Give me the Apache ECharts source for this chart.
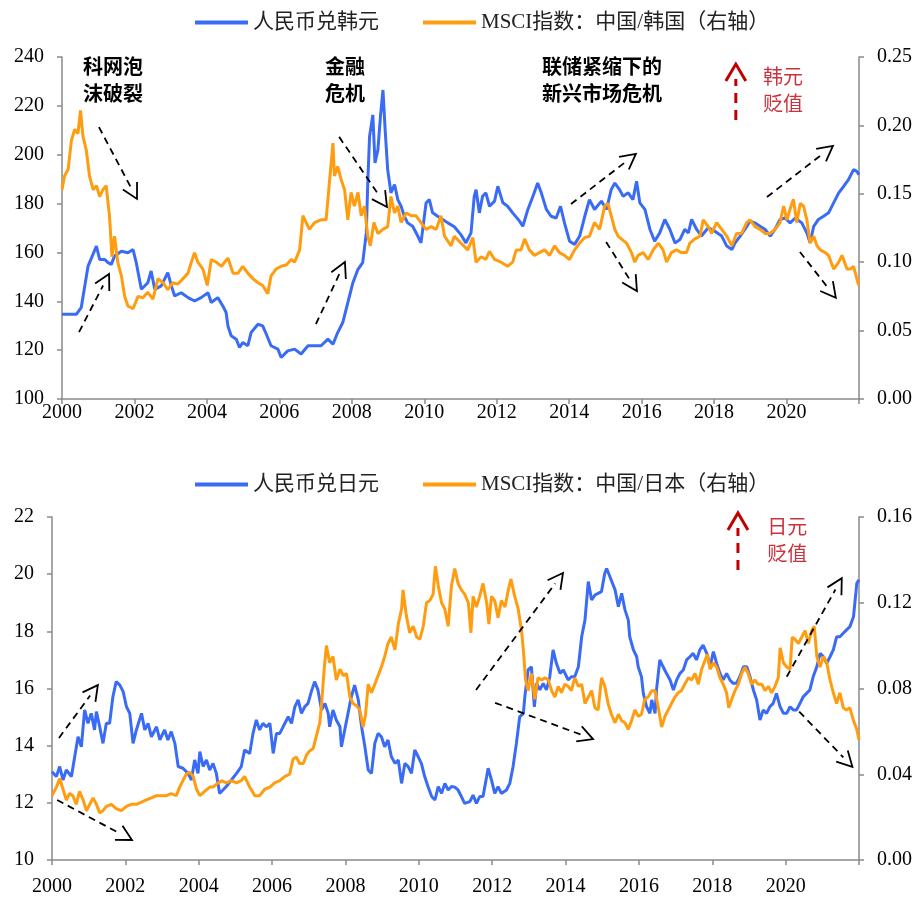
<!DOCTYPE html>
<html>
<head>
<meta charset="utf-8">
<title>人民币汇率与MSCI指数</title>
<script src="https://cdn.jsdelivr.net/npm/echarts@6/dist/echarts.min.js"></script>
<style>
html, body { margin: 0; padding: 0; background: #fff; }
#chart { width: 923px; height: 900px; }
</style>
</head>
<body>
<div id="chart"></div>
<script>
// 人民币兑韩元（左轴），[年份, 汇率]
var krwRate = [
[2000.00,134.7],[2000.40,134.7],[2000.53,137.4],[2000.72,154.4],[2000.95,162.6],[2001.04,157.1],[2001.18,157.1],[2001.27,155.8],[2001.36,155.1],[2001.45,158.5],
[2001.64,160.5],[2001.82,159.9],[2001.96,161.2],[2002.05,155.8],[2002.19,144.9],[2002.37,147.6],[2002.46,152.4],[2002.56,144.9],[2002.74,146.3],[2002.92,151.7],
[2003.02,146.3],[2003.11,142.2],[2003.29,143.5],[2003.48,141.5],[2003.66,140.1],[2003.84,141.5],[2004.03,143.5],[2004.12,139.5],[2004.30,141.5],[2004.44,138.1],
[2004.53,135.4],[2004.58,129.9],[2004.67,125.9],[2004.81,124.5],[2004.90,121.1],[2004.99,123.1],[2005.13,121.8],[2005.22,127.2],[2005.41,130.6],[2005.54,129.9],
[2005.64,126.5],[2005.77,121.8],[2005.96,120.4],[2006.05,117.0],[2006.23,119.7],[2006.42,120.4],[2006.60,118.4],[2006.79,121.8],[2006.97,121.8],[2007.15,121.8],
[2007.34,124.5],[2007.48,122.4],[2007.61,127.2],[2007.75,131.3],[2007.89,139.5],[2008.03,147.6],[2008.17,153.1],[2008.30,155.8],[2008.40,168.0],[2008.44,188.4],
[2008.49,207.5],[2008.58,216.3],[2008.64,196.6],[2008.72,202.0],[2008.79,215.6],[2008.86,226.5],[2008.92,210.2],[2008.99,193.9],[2009.08,184.4],[2009.18,187.8],
[2009.27,181.6],[2009.36,178.9],[2009.45,174.8],[2009.54,172.1],[2009.68,170.7],[2009.82,166.7],[2009.91,163.9],[2010.05,180.3],[2010.14,181.6],[2010.23,176.2],
[2010.37,174.8],[2010.51,173.5],[2010.65,172.1],[2010.83,170.5],[2011.01,167.3],[2011.15,163.9],[2011.29,168.0],[2011.38,183.0],[2011.43,185.7],[2011.52,176.2],
[2011.61,183.0],[2011.70,184.4],[2011.80,178.9],[2011.94,181.0],[2012.03,187.1],[2012.17,180.3],[2012.30,178.9],[2012.44,176.2],[2012.63,172.8],[2012.72,170.7],
[2012.86,177.6],[2013.00,183.0],[2013.13,188.4],[2013.23,184.4],[2013.37,177.6],[2013.50,174.8],[2013.64,174.1],[2013.76,178.9],[2013.87,172.1],[2014.01,164.6],
[2014.15,163.3],[2014.29,166.7],[2014.43,174.8],[2014.56,181.6],[2014.70,177.6],[2014.89,181.0],[2015.03,177.6],[2015.16,185.7],[2015.26,188.4],[2015.39,185.7],
[2015.49,183.0],[2015.63,184.4],[2015.76,181.6],[2015.86,189.1],[2015.95,180.3],[2016.09,177.6],[2016.23,169.4],[2016.36,164.6],[2016.50,168.0],[2016.64,173.5],
[2016.78,169.4],[2016.92,163.9],[2017.06,165.3],[2017.19,169.4],[2017.29,168.0],[2017.38,173.5],[2017.52,169.4],[2017.65,166.7],[2017.84,170.1],[2018.02,168.7],
[2018.21,166.7],[2018.35,162.6],[2018.49,161.2],[2018.58,163.9],[2018.72,166.7],[2018.85,169.4],[2018.99,172.8],[2019.13,172.1],[2019.27,170.7],[2019.41,169.4],
[2019.55,166.7],[2019.68,169.4],[2019.82,173.5],[2019.96,174.1],[2020.10,172.1],[2020.24,174.1],[2020.42,172.1],[2020.56,168.0],[2020.65,163.9],[2020.75,170.7],
[2020.88,173.5],[2021.02,174.8],[2021.16,176.2],[2021.30,180.3],[2021.44,184.4],[2021.58,187.1],[2021.71,189.8],[2021.85,193.9],[2021.94,193.2],[2022.00,191.8]
];

// MSCI指数：中国/韩国（右轴）
var krMsci = [
[2000.00,0.153],[2000.07,0.163],[2000.17,0.168],[2000.26,0.189],[2000.35,0.197],[2000.44,0.194],[2000.51,0.211],[2000.58,0.192],[2000.67,0.182],[2000.76,0.163],
[2000.86,0.153],[2000.95,0.156],[2001.04,0.148],[2001.13,0.153],[2001.22,0.156],[2001.31,0.134],[2001.38,0.104],[2001.45,0.119],[2001.54,0.100],[2001.64,0.090],
[2001.73,0.075],[2001.82,0.068],[2001.96,0.066],[2002.10,0.075],[2002.23,0.074],[2002.37,0.078],[2002.51,0.073],[2002.65,0.088],[2002.79,0.085],[2002.92,0.080],
[2003.06,0.085],[2003.20,0.084],[2003.34,0.088],[2003.48,0.092],[2003.57,0.100],[2003.66,0.107],[2003.75,0.100],[2003.89,0.095],[2004.01,0.083],[2004.12,0.102],
[2004.26,0.100],[2004.40,0.097],[2004.58,0.103],[2004.72,0.092],[2004.86,0.092],[2004.99,0.097],[2005.13,0.092],[2005.27,0.088],[2005.41,0.085],[2005.54,0.083],
[2005.68,0.077],[2005.77,0.090],[2005.91,0.095],[2006.05,0.097],[2006.19,0.098],[2006.33,0.102],[2006.42,0.100],[2006.56,0.109],[2006.65,0.134],[2006.74,0.129],
[2006.83,0.124],[2006.97,0.129],[2007.15,0.131],[2007.29,0.131],[2007.38,0.158],[2007.48,0.187],[2007.52,0.163],[2007.61,0.170],[2007.71,0.160],[2007.80,0.153],
[2007.89,0.131],[2007.98,0.151],[2008.07,0.141],[2008.17,0.151],[2008.26,0.134],[2008.35,0.141],[2008.44,0.119],[2008.51,0.112],[2008.61,0.129],[2008.72,0.121],
[2008.86,0.124],[2008.99,0.126],[2009.08,0.148],[2009.18,0.136],[2009.27,0.141],[2009.36,0.129],[2009.50,0.136],[2009.64,0.134],[2009.77,0.134],[2009.91,0.129],
[2010.05,0.124],[2010.19,0.126],[2010.33,0.124],[2010.46,0.134],[2010.56,0.119],[2010.74,0.112],[2010.83,0.119],[2011.01,0.114],[2011.20,0.109],[2011.34,0.118],
[2011.43,0.100],[2011.57,0.104],[2011.70,0.102],[2011.80,0.108],[2011.94,0.102],[2012.12,0.100],[2012.30,0.097],[2012.44,0.100],[2012.54,0.109],[2012.67,0.109],
[2012.77,0.117],[2012.90,0.109],[2013.04,0.105],[2013.18,0.107],[2013.32,0.109],[2013.46,0.105],[2013.60,0.112],[2013.73,0.107],[2013.87,0.105],[2014.01,0.102],
[2014.15,0.109],[2014.29,0.114],[2014.43,0.118],[2014.56,0.119],[2014.70,0.129],[2014.84,0.124],[2014.98,0.141],[2015.07,0.143],[2015.16,0.134],[2015.26,0.124],
[2015.35,0.119],[2015.44,0.117],[2015.58,0.114],[2015.72,0.107],[2015.81,0.100],[2015.90,0.105],[2016.04,0.107],[2016.18,0.102],[2016.32,0.109],[2016.46,0.114],
[2016.59,0.109],[2016.69,0.100],[2016.82,0.107],[2016.96,0.109],[2017.10,0.107],[2017.24,0.107],[2017.33,0.114],[2017.47,0.117],[2017.61,0.119],[2017.70,0.131],
[2017.84,0.126],[2017.93,0.121],[2018.07,0.129],[2018.21,0.124],[2018.35,0.119],[2018.49,0.112],[2018.62,0.121],[2018.76,0.121],[2018.90,0.129],[2018.99,0.131],
[2019.13,0.126],[2019.27,0.124],[2019.41,0.121],[2019.55,0.121],[2019.68,0.124],[2019.82,0.129],[2019.92,0.141],[2020.01,0.131],[2020.10,0.139],[2020.19,0.146],
[2020.28,0.129],[2020.38,0.143],[2020.47,0.141],[2020.56,0.131],[2020.65,0.114],[2020.75,0.119],[2020.84,0.112],[2020.93,0.109],[2021.07,0.107],[2021.16,0.105],
[2021.30,0.095],[2021.44,0.100],[2021.53,0.105],[2021.67,0.095],[2021.76,0.095],[2021.85,0.097],[2021.99,0.083]
];

// 人民币兑日元（左轴）
var jpyRate = [
[2000.00,13.09],[2000.12,12.92],[2000.21,13.27],[2000.30,12.80],[2000.39,13.15],[2000.53,12.92],[2000.62,13.62],[2000.71,14.31],[2000.80,13.96],[2000.89,15.25],
[2000.98,14.78],[2001.07,15.13],[2001.16,14.55],[2001.21,15.19],[2001.30,14.66],[2001.39,14.08],[2001.48,14.78],[2001.57,14.78],[2001.66,15.71],[2001.75,16.24],
[2001.85,16.12],[2001.94,15.89],[2002.03,15.36],[2002.12,15.13],[2002.21,14.08],[2002.30,14.55],[2002.44,15.13],[2002.53,14.55],[2002.62,14.78],[2002.71,14.31],
[2002.85,14.66],[2002.94,14.20],[2003.07,14.55],[2003.16,14.20],[2003.25,14.49],[2003.35,14.08],[2003.44,13.27],[2003.57,13.21],[2003.71,13.03],[2003.80,12.80],
[2003.89,13.50],[2003.98,13.03],[2004.03,13.79],[2004.12,13.27],[2004.21,13.50],[2004.30,13.15],[2004.39,13.38],[2004.48,13.03],[2004.57,12.33],[2004.66,12.45],
[2004.75,12.57],[2004.89,12.80],[2005.03,13.03],[2005.16,13.27],[2005.25,13.85],[2005.39,13.73],[2005.48,14.43],[2005.57,14.90],[2005.66,14.55],[2005.75,14.78],
[2005.85,14.66],[2005.94,14.78],[2006.03,13.73],[2006.12,14.43],[2006.21,14.43],[2006.30,14.66],[2006.44,15.01],[2006.53,14.78],[2006.62,15.36],[2006.71,15.60],
[2006.80,15.13],[2006.89,15.36],[2006.98,15.48],[2007.07,15.89],[2007.16,16.24],[2007.25,15.95],[2007.35,15.25],[2007.44,15.48],[2007.53,15.13],[2007.57,14.66],
[2007.66,15.25],[2007.75,14.90],[2007.85,14.66],[2007.89,13.96],[2007.98,14.55],[2008.07,15.13],[2008.16,15.71],[2008.25,16.12],[2008.35,15.60],[2008.44,14.66],
[2008.53,13.96],[2008.62,13.15],[2008.71,13.03],[2008.80,14.08],[2008.89,14.43],[2008.98,14.31],[2009.07,13.96],[2009.16,14.20],[2009.25,13.62],[2009.35,13.38],
[2009.44,13.50],[2009.53,12.68],[2009.62,13.38],[2009.71,13.27],[2009.80,13.03],[2009.89,13.85],[2009.98,13.62],[2010.07,13.38],[2010.16,12.92],[2010.25,12.57],
[2010.35,12.22],[2010.44,12.10],[2010.53,12.57],[2010.62,12.33],[2010.71,12.68],[2010.80,12.45],[2010.89,12.57],[2010.98,12.55],[2011.07,12.45],[2011.16,12.22],
[2011.25,11.98],[2011.39,12.04],[2011.48,12.27],[2011.57,11.98],[2011.66,12.22],[2011.75,12.22],[2011.85,12.92],[2011.89,13.21],[2011.98,12.80],[2012.07,12.33],
[2012.16,12.57],[2012.25,12.33],[2012.39,12.45],[2012.48,12.68],[2012.57,13.27],[2012.66,14.08],[2012.75,15.01],[2012.85,15.13],[2012.89,15.71],[2012.98,16.65],
[2013.07,16.76],[2013.15,15.36],[2013.21,16.18],[2013.30,15.95],[2013.39,16.18],[2013.48,15.95],[2013.57,16.41],[2013.66,17.35],[2013.75,16.88],[2013.85,16.53],
[2013.94,16.65],[2014.07,16.30],[2014.16,16.41],[2014.25,16.41],[2014.35,16.76],[2014.44,17.81],[2014.53,18.40],[2014.62,19.74],[2014.71,19.10],[2014.80,19.27],
[2014.89,19.33],[2014.98,19.39],[2015.07,20.03],[2015.12,20.20],[2015.21,19.91],[2015.25,19.97],[2015.35,19.45],[2015.44,18.86],[2015.53,19.33],[2015.62,18.75],
[2015.71,18.40],[2015.75,17.81],[2015.85,17.35],[2015.94,17.11],[2015.98,16.76],[2016.07,16.41],[2016.12,15.83],[2016.21,15.36],[2016.30,15.13],[2016.35,15.60],
[2016.44,15.13],[2016.48,15.95],[2016.57,17.00],[2016.66,16.76],[2016.75,16.53],[2016.85,16.30],[2016.94,15.95],[2017.03,16.30],[2017.12,16.53],[2017.21,16.65],
[2017.30,17.00],[2017.39,17.11],[2017.48,17.23],[2017.57,17.00],[2017.66,17.35],[2017.75,17.52],[2017.85,17.23],[2017.94,16.76],[2018.03,17.29],[2018.12,16.88],
[2018.21,16.53],[2018.30,16.30],[2018.39,16.53],[2018.48,16.30],[2018.57,16.18],[2018.66,16.18],[2018.75,16.41],[2018.85,16.76],[2018.94,16.76],[2019.03,16.41],
[2019.12,15.95],[2019.21,15.60],[2019.30,14.90],[2019.39,15.25],[2019.48,15.13],[2019.57,15.36],[2019.66,15.48],[2019.75,15.83],[2019.85,15.36],[2019.94,15.13],
[2020.03,15.13],[2020.12,15.36],[2020.21,15.25],[2020.30,15.25],[2020.39,15.48],[2020.48,15.71],[2020.57,15.83],[2020.66,15.95],[2020.75,16.41],[2020.85,16.76],
[2020.94,17.23],[2021.03,17.11],[2021.12,16.88],[2021.21,17.11],[2021.30,17.35],[2021.39,17.81],[2021.48,17.81],[2021.57,17.93],[2021.66,18.05],[2021.75,18.16],
[2021.85,18.51],[2021.94,19.68],[2022.00,19.80]
];

// MSCI指数：中国/日本（右轴）
var jpMsci = [
[2000.00,0.030],[2000.12,0.034],[2000.21,0.038],[2000.30,0.033],[2000.39,0.028],[2000.48,0.031],[2000.57,0.030],[2000.66,0.026],[2000.75,0.032],[2000.85,0.028],
[2000.94,0.023],[2001.03,0.026],[2001.12,0.029],[2001.21,0.026],[2001.30,0.022],[2001.39,0.023],[2001.48,0.025],[2001.62,0.026],[2001.75,0.024],[2001.89,0.023],
[2002.03,0.025],[2002.16,0.026],[2002.30,0.026],[2002.44,0.027],[2002.57,0.028],[2002.71,0.029],[2002.85,0.030],[2002.98,0.030],[2003.12,0.030],[2003.25,0.031],
[2003.39,0.030],[2003.48,0.034],[2003.57,0.037],[2003.66,0.040],[2003.75,0.041],[2003.85,0.039],[2003.94,0.033],[2004.03,0.030],[2004.16,0.032],[2004.30,0.034],
[2004.39,0.034],[2004.53,0.036],[2004.62,0.037],[2004.75,0.036],[2004.89,0.037],[2005.03,0.036],[2005.16,0.037],[2005.25,0.039],[2005.39,0.034],[2005.53,0.030],
[2005.66,0.030],[2005.80,0.033],[2005.94,0.034],[2006.07,0.036],[2006.21,0.037],[2006.35,0.039],[2006.48,0.040],[2006.57,0.047],[2006.66,0.048],[2006.75,0.045],
[2006.85,0.045],[2006.94,0.049],[2007.03,0.051],[2007.12,0.052],[2007.21,0.058],[2007.30,0.064],[2007.35,0.073],[2007.42,0.089],[2007.48,0.100],[2007.57,0.092],
[2007.66,0.095],[2007.75,0.084],[2007.85,0.089],[2007.94,0.086],[2008.03,0.087],[2008.12,0.076],[2008.21,0.073],[2008.30,0.072],[2008.39,0.070],[2008.48,0.062],
[2008.55,0.068],[2008.62,0.082],[2008.71,0.078],[2008.80,0.082],[2008.89,0.086],[2008.98,0.090],[2009.07,0.095],[2009.16,0.101],[2009.25,0.104],[2009.35,0.098],
[2009.44,0.110],[2009.53,0.117],[2009.57,0.126],[2009.66,0.114],[2009.75,0.106],[2009.85,0.109],[2009.94,0.104],[2010.03,0.103],[2010.12,0.109],[2010.21,0.120],
[2010.30,0.121],[2010.39,0.124],[2010.45,0.137],[2010.53,0.128],[2010.62,0.120],[2010.71,0.117],[2010.80,0.109],[2010.89,0.128],[2010.98,0.136],[2011.07,0.129],
[2011.16,0.126],[2011.25,0.124],[2011.35,0.120],[2011.42,0.106],[2011.48,0.123],[2011.57,0.118],[2011.66,0.123],[2011.75,0.129],[2011.85,0.120],[2011.91,0.110],
[2011.98,0.123],[2012.07,0.121],[2012.16,0.113],[2012.25,0.121],[2012.35,0.118],[2012.44,0.126],[2012.51,0.131],[2012.60,0.124],[2012.71,0.117],[2012.80,0.107],
[2012.85,0.098],[2012.91,0.084],[2012.98,0.079],[2013.07,0.087],[2013.16,0.075],[2013.25,0.085],[2013.35,0.084],[2013.44,0.085],[2013.53,0.084],[2013.62,0.079],
[2013.71,0.076],[2013.80,0.081],[2013.89,0.078],[2013.98,0.082],[2014.07,0.081],[2014.16,0.079],[2014.25,0.085],[2014.35,0.081],[2014.44,0.082],[2014.53,0.073],
[2014.62,0.076],[2014.71,0.079],[2014.80,0.071],[2014.89,0.070],[2014.98,0.085],[2015.07,0.081],[2015.16,0.073],[2015.25,0.068],[2015.35,0.064],[2015.44,0.068],
[2015.53,0.065],[2015.62,0.064],[2015.71,0.061],[2015.80,0.065],[2015.89,0.070],[2015.98,0.067],[2016.07,0.068],[2016.16,0.075],[2016.25,0.076],[2016.35,0.079],
[2016.44,0.079],[2016.53,0.071],[2016.62,0.062],[2016.71,0.067],[2016.80,0.070],[2016.89,0.073],[2016.98,0.076],[2017.07,0.078],[2017.16,0.079],[2017.25,0.082],
[2017.35,0.085],[2017.44,0.084],[2017.53,0.087],[2017.62,0.082],[2017.71,0.089],[2017.80,0.093],[2017.87,0.096],[2017.94,0.089],[2018.03,0.092],[2018.12,0.090],
[2018.21,0.085],[2018.30,0.082],[2018.39,0.078],[2018.45,0.071],[2018.53,0.075],[2018.62,0.079],[2018.71,0.082],[2018.80,0.087],[2018.89,0.090],[2018.98,0.087],
[2019.07,0.082],[2019.16,0.084],[2019.25,0.082],[2019.35,0.082],[2019.44,0.079],[2019.53,0.081],[2019.62,0.078],[2019.71,0.081],[2019.80,0.085],[2019.85,0.099],
[2019.94,0.092],[2020.03,0.090],[2020.12,0.089],[2020.18,0.104],[2020.25,0.103],[2020.35,0.101],[2020.44,0.104],[2020.53,0.107],[2020.62,0.101],[2020.71,0.107],
[2020.78,0.109],[2020.85,0.095],[2020.94,0.090],[2021.03,0.095],[2021.12,0.092],[2021.21,0.084],[2021.30,0.078],[2021.39,0.073],[2021.48,0.078],[2021.57,0.071],
[2021.66,0.070],[2021.75,0.071],[2021.85,0.065],[2021.94,0.061],[2022.00,0.056]
];

// 标注：文字与箭头，位置用左轴数据坐标 [年份, 数值]
var topNotes = [
  { text: '科网泡\n沫破裂', at: [2000.58, 241.6], color: '#000', bold: true },
  { text: '金融\n危机', at: [2007.26, 241.6], color: '#000', bold: true },
  { text: '联储紧缩下的\n新兴市场危机', at: [2013.25, 241.6], color: '#000', bold: true },
  { text: '韩元\n贬值', at: [2019.35, 237.5], color: '#C9333D', bold: false }
];
var topArrows = [
  [2001.02, 211.3, 2002.07, 181.9],
  [2000.47, 127.4, 2001.30, 151.2],
  [2007.65, 207.3, 2008.97, 178.6],
  [2007.01, 130.7, 2007.81, 156.1],
  [2014.05, 179.8, 2015.84, 200.3],
  [2015.02, 164.3, 2015.87, 144.2],
  [2019.46, 182.7, 2021.28, 203.6],
  [2020.37, 160.2, 2021.36, 141.4]
];
var topRedArrow = [2018.60, 214.2, 2018.60, 237.1];

var bottomNotes = [
  { text: '日元\n贬值', at: [2019.50, 22.14], color: '#C9333D', bold: false }
];
var bottomArrows = [
  [2000.19, 14.27, 2001.25, 16.12],
  [2000.14, 12.10, 2002.18, 10.70],
  [2011.56, 15.95, 2013.93, 20.04],
  [2012.08, 15.50, 2014.75, 14.23],
  [2020.03, 16.41, 2021.53, 19.86],
  [2020.37, 15.19, 2021.82, 13.26]
];
var bottomRedArrow = [2018.70, 20.15, 2018.70, 22.14];

var BLUE = '#3A6BF5';
var ORANGE = '#FF9C0F';
var AXIS_GREY = '#8a8a8a';
var numFont = "'Liberation Serif', 'Times New Roman', serif";
var cjkFont = "'Liberation Serif', 'Noto Sans CJK SC', serif";

function yearAxis(gridIndex, margin) {
  return {
    type: 'value', gridIndex: gridIndex,
    min: 2000, max: 2022, interval: 2,
    axisLine: { onZero: false, lineStyle: { color: AXIS_GREY, width: 1.5 } },
    axisTick: { length: 5, lineStyle: { color: AXIS_GREY, width: 1.5 } },
    splitLine: { show: false },
    axisLabel: {
      color: '#000', fontSize: 20, fontFamily: numFont, margin: margin,
      formatter: function (v) { return v >= 2022 ? '' : String(v); }
    }
  };
}

function valueAxis(gridIndex, position, min, max, interval, digits) {
  return {
    type: 'value', gridIndex: gridIndex, position: position,
    min: min, max: max, interval: interval,
    axisLine: { show: true, onZero: false, lineStyle: { color: AXIS_GREY, width: 1.5 } },
    axisTick: { show: true, length: 5, lineStyle: { color: AXIS_GREY, width: 1.5 } },
    splitLine: { show: false },
    axisLabel: {
      color: '#000', fontSize: 20, fontFamily: numFont, margin: 18,
      formatter: function (v) { return v.toFixed(digits); }
    }
  };
}

function lineSeries(name, data, color, xIdx, yIdx) {
  return {
    name: name, type: 'line', data: data,
    xAxisIndex: xIdx, yAxisIndex: yIdx,
    showSymbol: false, symbol: 'none',
    lineStyle: { color: color, width: 3 },
    itemStyle: { color: color },
    z: 2
  };
}

var legendBase = {
  icon: 'rect', itemWidth: 53, itemHeight: 4, itemGap: 44,
  textStyle: { fontSize: 21, fontFamily: cjkFont, color: '#222' }
};

var chart = echarts.init(document.getElementById('chart'));

var option = {
  animation: false,
  backgroundColor: '#fff',
  legend: [
    Object.assign({}, legendBase, { left: 190, top: 7, data: ['人民币兑韩元', 'MSCI指数：中国/韩国（右轴）'] }),
    Object.assign({}, legendBase, { left: 190, top: 469, data: ['人民币兑日元', 'MSCI指数：中国/日本（右轴）'] })
  ],
  grid: [
    { left: 62, top: 57, width: 797, height: 342 },
    { left: 52, top: 517, width: 807, height: 343 }
  ],
  xAxis: [yearAxis(0, 4), yearAxis(1, 17)],
  yAxis: [
    valueAxis(0, 'left', 100, 240, 20, 0),
    valueAxis(0, 'right', 0, 0.25, 0.05, 2),
    valueAxis(1, 'left', 10, 22, 2, 0),
    valueAxis(1, 'right', 0, 0.16, 0.04, 2)
  ],
  series: [
    lineSeries('人民币兑韩元', krwRate, BLUE, 0, 0),
    lineSeries('MSCI指数：中国/韩国（右轴）', krMsci, ORANGE, 0, 1),
    lineSeries('人民币兑日元', jpyRate, BLUE, 1, 2),
    lineSeries('MSCI指数：中国/日本（右轴）', jpMsci, ORANGE, 1, 3)
  ]
};

chart.setOption(option);

// 箭头：虚线 + 开口箭头
function arrowShapes(p1, p2, color, width, dash, headLen, headHalf) {
  var dx = p2[0] - p1[0], dy = p2[1] - p1[1];
  var len = Math.sqrt(dx * dx + dy * dy);
  var ux = dx / len, uy = dy / len;
  var bx = p2[0] - ux * headLen, by = p2[1] - uy * headLen;
  var nx = -uy, ny = ux;
  return [
    { type: 'line', silent: true, z: 10,
      shape: { x1: p1[0], y1: p1[1], x2: bx + ux * 2, y2: by + uy * 2 },
      style: { stroke: color, lineWidth: width, lineDash: dash } },
    { type: 'polyline', silent: true, z: 10,
      shape: { points: [[bx + nx * headHalf, by + ny * headHalf], p2, [bx - nx * headHalf, by - ny * headHalf]] },
      style: { stroke: color, lineWidth: width, fill: null } }
  ];
}

function buildAnnotations(seriesIndex, notes, arrows, redArrow) {
  var out = [];
  var px = function (pt) { return chart.convertToPixel({ seriesIndex: seriesIndex }, pt); };
  arrows.forEach(function (a) {
    out = out.concat(arrowShapes(px([a[0], a[1]]), px([a[2], a[3]]), '#000', 1.8, [7, 5], 15, 8));
  });
  out = out.concat(arrowShapes(px([redArrow[0], redArrow[1]]), px([redArrow[2], redArrow[3]]), '#C00000', 3, [10, 7], 17, 10));
  notes.forEach(function (n) {
    var p = px(n.at);
    out.push({
      type: 'text', x: p[0], y: p[1], silent: true, z: 10,
      style: {
        text: n.text, fill: n.color,
        fontSize: 20, fontWeight: n.bold ? 'bold' : 'normal',
        fontFamily: "'Noto Sans CJK SC', sans-serif",
        lineHeight: 27
      }
    });
  });
  return out;
}

var graphics = buildAnnotations(0, topNotes, topArrows, topRedArrow)
  .concat(buildAnnotations(2, bottomNotes, bottomArrows, bottomRedArrow));
chart.setOption({ graphic: graphics });
</script>
</body>
</html>
